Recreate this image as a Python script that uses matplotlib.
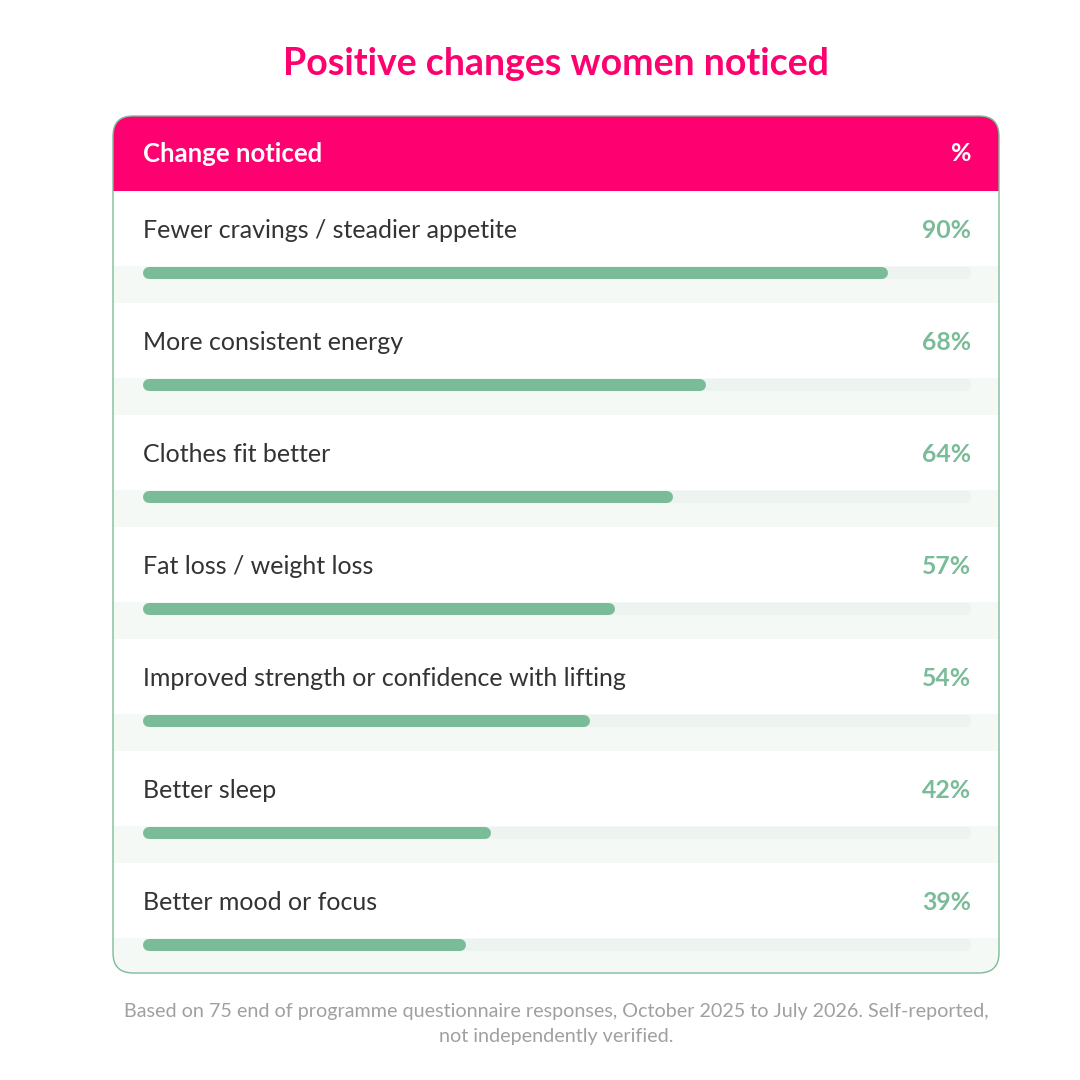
import matplotlib.pyplot as plt
from matplotlib.patches import FancyBboxPatch, Rectangle

#### Data ####
title = "Positive changes women noticed"
header_left = "Change noticed"
header_right = "%"
changes = [
    "Fewer cravings / steadier appetite",
    "More consistent energy",
    "Clothes fit better",
    "Fat loss / weight loss",
    "Improved strength or confidence with lifting",
    "Better sleep",
    "Better mood or focus",
]
percents = [90, 68, 64, 57, 54, 42, 39]
footnote = ("Based on 75 end of programme questionnaire responses, October 2025 to July 2026. Self-reported,\n"
            "not independently verified.")

#### Style ####
PINK = "#FF0070"
GREEN = "#7BBC98"
TRACK = "#EDF3EF"
BAND = "#F4F9F6"
TEXT = "#333333"
GREY = "#A0A0A0"
FONT = ["Lato", "DejaVu Sans"]

W = H = 1080
card_l, card_r, card_t, card_b = 113, 999, 116, 973
head_h = 75
row_h = 112
track_l, track_r = 143, 971

fig = plt.figure(figsize=(W / 100, H / 100), dpi=100)
ax = fig.add_axes([0, 0, 1, 1])
ax.set_xlim(0, W)
ax.set_ylim(H, 0)
ax.axis("off")

ax.text((card_l + card_r) / 2, 64, title, ha="center", va="center",
        fontsize=27, fontweight="bold", color=PINK, family=FONT)

# card
card = FancyBboxPatch((card_l, card_t), card_r - card_l, card_b - card_t,
                      boxstyle="round,pad=0,rounding_size=20",
                      facecolor="white", edgecolor="none", zorder=1)
ax.add_patch(card)

header = Rectangle((card_l, card_t), card_r - card_l, head_h, facecolor=PINK,
                   edgecolor="none", zorder=2)
ax.add_patch(header)
header.set_clip_path(card)
ax.text(track_l, card_t + head_h / 2, header_left, ha="left", va="center",
        fontsize=18.5, fontweight="bold", color="white", family=FONT, zorder=3)
ax.text(track_r, card_t + head_h / 2, header_right, ha="right", va="center",
        fontsize=18, fontweight="bold", color="white", family=FONT, zorder=3)

for i, (name, pct) in enumerate(zip(changes, percents)):
    top = card_t + head_h + i * row_h
    band = Rectangle((card_l, top + 75), card_r - card_l, row_h - 75,
                     facecolor=BAND, edgecolor="none", zorder=2)
    ax.add_patch(band)
    band.set_clip_path(card)
    ax.text(track_l, top + 40, name, ha="left", va="center",
            fontsize=18, color=TEXT, family=FONT, zorder=3)
    ax.text(track_r, top + 40, f"{pct}%", ha="right", va="center",
            fontsize=17.8, fontweight="bold", color=GREEN, family=FONT, zorder=3)

border = FancyBboxPatch((card_l, card_t), card_r - card_l, card_b - card_t,
                        boxstyle="round,pad=0,rounding_size=20",
                        facecolor="none", edgecolor=GREEN, linewidth=1.0, zorder=5)
ax.add_patch(border)

ax.text((card_l + card_r) / 2, 1024, footnote, ha="center", va="center",
        fontsize=14.2, color=GREY, family=FONT, linespacing=1.55)

#### Bars ####
n = len(changes)
bar_y0 = card_t + head_h + 82  # first bar centre in px
span_top = bar_y0 - row_h / 2
span_bot = bar_y0 + (n - 1) * row_h + row_h / 2
bax = fig.add_axes([track_l / W, 1 - span_bot / H, (track_r - track_l) / W,
                    (span_bot - span_top) / H])
bax.set_xlim(0, 100)
bax.set_ylim(n - 0.5, -0.5)
bax.axis("off")
bax.patch.set_alpha(0)

lw_px = 12
lw = lw_px * 72 / 100
cap = (lw_px / 2) / (track_r - track_l) * 100
for i, pct in enumerate(percents):
    bax.plot([cap, 100 - cap], [i, i], color=TRACK, linewidth=lw,
             solid_capstyle="round", zorder=1)
    bax.plot([cap, pct - cap], [i, i], color=GREEN, linewidth=lw,
             solid_capstyle="round", zorder=2)

fig.savefig("out.png", dpi=100, facecolor="white")
